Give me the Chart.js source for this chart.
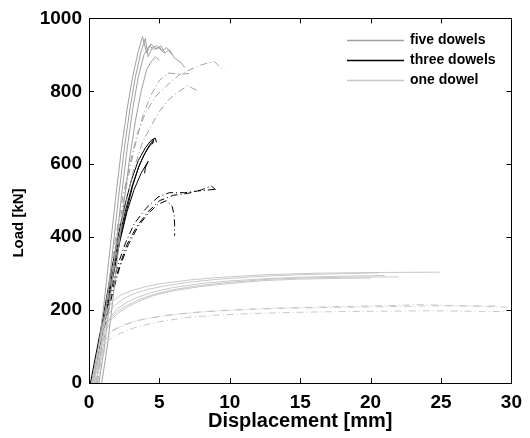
<!DOCTYPE html>
<html>
<head>
<meta charset="utf-8">
<script src="https://cdn.jsdelivr.net/npm/chart.js@4/dist/chart.umd.min.js"></script>
<style>
  body { margin: 0; background: #fff; }
  #wrap { width: 530px; height: 438px; }
</style>
</head>
<body>
<div id="wrap"><canvas id="grafica" width="530" height="438"></canvas></div>
<script>
// ejes
const xTicks = [0, 5, 10, 15, 20, 25, 30];
const yTicks = [0, 200, 400, 600, 800, 1000];
const legendLabels = ['five dowels', 'three dowels', 'one dowel'];

// five dowels, solid  [displacement mm, load kN]
const five1 = [[0.3,0],[0.7,100],[1.1,230],[1.5,370],[1.9,510],[2.3,640],[2.7,750],[3.1,840],[3.5,910],[3.8,950],[4.1,905],[4.4,930],[4.8,915],[5.1,925],[5.4,905],[5.7,915],[6.1,890],[6.5,880],[6.8,865]];
const five2 = [[0.5,0],[0.9,100],[1.3,230],[1.7,370],[2.1,510],[2.5,640],[2.9,750],[3.3,840],[3.7,910],[4.0,945],[4.2,895],[4.5,920],[4.8,925],[5.2,910],[5.5,920],[5.9,900]];
const five3 = [[0.7,0],[1.1,100],[1.5,230],[1.9,370],[2.3,510],[2.7,640],[3.1,750],[3.5,840],[3.9,900],[4.3,925],[4.6,915],[5.0,922],[5.3,905]];
const five4 = [[0.9,0],[1.3,100],[1.7,230],[2.1,370],[2.5,500],[2.9,620],[3.3,720],[3.7,800],[4.1,860],[4.4,880],[4.7,895],[5.0,885]];
// five dowels, dash-dot
const fiveD1 = [[0.4,0],[0.9,130],[1.4,270],[1.9,400],[2.4,510],[2.9,600],[3.4,680],[4.0,740],[4.7,785],[5.5,815],[6.4,845],[7.2,860],[8.0,873],[8.9,882],[9.6,855]];
const fiveD2 = [[0.6,0],[1.1,130],[1.6,270],[2.1,390],[2.6,490],[3.2,590],[3.8,660],[4.4,705],[5.0,745],[5.6,775],[6.2,795],[7.0,815],[7.8,800]];
const fiveD3 = [[0.5,0],[1.0,130],[1.5,270],[2.0,400],[2.6,530],[3.2,640],[3.8,730],[4.4,790],[5.0,830],[5.6,850],[6.6,847],[7.1,849]];

// three dowels, solid
const three1 = [[0.1,0],[0.5,80],[1.0,180],[1.5,290],[2.0,390],[2.5,480],[3.0,555],[3.5,610],[4.0,645],[4.4,665],[4.7,672],[4.8,660]];
const three2 = [[0.2,0],[0.6,80],[1.1,180],[1.6,290],[2.1,390],[2.6,475],[3.1,545],[3.6,600],[4.1,640],[4.4,658],[4.6,668],[4.5,655]];
const three3 = [[0.3,0],[0.7,80],[1.2,180],[1.7,290],[2.2,390],[2.7,470],[3.2,530],[3.7,575],[4.0,595],[4.2,608],[4.0,590],[3.95,575]];
const three4 = [[0.25,0],[0.65,80],[1.15,180],[1.65,290],[2.15,385],[2.65,470],[3.1,540],[3.5,590],[3.9,625],[4.3,650],[4.6,662]];
// three dowels, dash-dot
const threeD1 = [[0.2,0],[0.6,80],[1.1,170],[1.6,260],[2.1,330],[2.6,385],[3.2,436],[4.0,477],[4.9,510],[5.7,522],[6.8,522],[7.8,527],[8.9,531],[9.0,522]];
const threeD2 = [[0.3,0],[0.7,80],[1.2,170],[1.7,250],[2.2,320],[2.8,380],[3.5,430],[4.2,465],[4.9,490],[5.5,500],[5.9,485],[6.05,460],[6.08,436],[6.08,404]];
const threeD3 = [[0.25,0],[0.65,80],[1.15,170],[1.65,255],[2.2,325],[2.7,380],[3.4,430],[4.2,470],[5.0,500],[6.0,515],[7.0,520],[8.0,530],[8.7,540],[9.0,530]];

// one dowel, solid
const one1 = [[0.2,0],[0.6,80],[1.0,160],[1.3,200],[1.7,225],[2.2,240],[3,253],[4,264],[5,272],[7,282],[9,289],[12.5,297],[16,301],[20,303],[24.9,304]];
const one2 = [[0.3,0],[0.7,80],[1.1,150],[1.45,175],[2,195],[2.7,213],[3.5,228],[4.6,243],[6,256],[8,268],[10,276],[12.5,284],[15,288],[18,290],[22,291]];
const one3 = [[0.35,0],[0.75,80],[1.15,150],[1.5,180],[2,203],[2.7,222],[3.5,236],[4.6,250],[6,262],[8,273],[10,280],[12.5,286],[15,290],[18,293],[21,295]];
const one4 = [[0.5,0],[0.9,80],[1.3,150],[1.6,175],[2.1,192],[2.8,210],[3.6,225],[4.6,240],[6,253],[8,265],[10,273],[12.5,281],[15,285],[18,287],[20,288]];
const one5 = [[0.2,0],[0.6,80],[1.0,150],[1.3,185],[1.8,212],[2.4,230],[3.2,245],[4.2,257],[5.5,267],[7,276],[9,284],[12,292],[15,297],[18,300],[20.5,302]];
// one dowel, dash-dot
const oneD1 = [[0.2,0],[0.6,50],[1.0,100],[1.3,130],[1.7,145],[2.5,160],[3.5,172],[5,183],[7,192],[9,198],[12,204],[15,207],[18,210],[21,212],[23.6,215],[26,212],[28,210],[29.7,208]];
const oneD2 = [[0.3,0],[0.7,50],[1.1,100],[1.4,118],[1.8,128],[2.6,143],[3.5,155],[5,168],[7,180],[9,186],[12,191],[15,194],[18,196],[21,197],[24,198],[27,197],[29.5,196]];
const oneD3 = [[0.4,0],[0.8,50],[1.2,100],[1.5,135],[2,150],[3,166],[4,176],[6,188],[8,195],[11,201],[14,205],[17,207],[20,209],[22,210],[25,212],[29,211]];

const GRIS_5 = '#a0a0a0';
const NEGRO_3 = '#000000';
const GRIS_1 = '#c8c8c8';
const PUNTO_RAYA = [7, 3, 1, 3];

function serie(puntos, color, dash) {
    return {
        data: puntos.map(p => ({ x: p[0], y: p[1] })),
        borderColor: color,
        borderWidth: 1,
        borderDash: dash || [],
        pointRadius: 0,
        tension: 0,
        fill: false
    };
}

const datasets = [
    ...[oneD1, oneD2, oneD3].map(d => serie(d, GRIS_1, PUNTO_RAYA)),
    ...[one1, one2, one3, one4, one5].map(d => serie(d, GRIS_1)),
    ...[fiveD1, fiveD2, fiveD3].map(d => serie(d, GRIS_5, PUNTO_RAYA)),
    ...[five1, five2, five3, five4].map(d => serie(d, GRIS_5)),
    ...[threeD1, threeD2, threeD3].map(d => serie(d, NEGRO_3, PUNTO_RAYA)),
    ...[three1, three2, three3, three4].map(d => serie(d, NEGRO_3))
];

const fuente = '"Liberation Sans", Arial, sans-serif';

// marco con marcas hacia dentro, titulo Y y leyenda sin caja
const marcoPlugin = {
    id: 'marco',
    afterDraw(chart) {
        const ctx = chart.ctx;
        const a = chart.chartArea;
        const sx = chart.scales.x, sy = chart.scales.y;
        ctx.save();
        ctx.strokeStyle = '#000';
        ctx.lineWidth = 1;
        ctx.strokeRect(Math.round(a.left) + 0.5, Math.round(a.top) + 0.5, Math.round(a.right - a.left), Math.round(a.bottom - a.top));
        ctx.beginPath();
        xTicks.forEach(v => {
            const px = Math.round(sx.getPixelForValue(v)) + 0.5;
            ctx.moveTo(px, a.bottom); ctx.lineTo(px, a.bottom - 5);
            ctx.moveTo(px, a.top); ctx.lineTo(px, a.top + 5);
        });
        yTicks.forEach(v => {
            const py = Math.round(sy.getPixelForValue(v)) + 0.5;
            ctx.moveTo(a.left, py); ctx.lineTo(a.left + 5, py);
            ctx.moveTo(a.right, py); ctx.lineTo(a.right - 5, py);
        });
        ctx.stroke();

        // titulo del eje Y
        ctx.save();
        ctx.translate(19, 223);
        ctx.rotate(-Math.PI / 2);
        ctx.font = 'bold 15px ' + fuente;
        ctx.fillStyle = '#000';
        ctx.textAlign = 'center';
        ctx.textBaseline = 'middle';
        ctx.fillText('Load [kN]', 0, 0);
        ctx.restore();

        const colores = [GRIS_5, NEGRO_3, GRIS_1];
        ctx.font = 'bold 14px ' + fuente;
        ctx.textBaseline = 'middle';
        legendLabels.forEach((txt, i) => {
            const y = 40.5 + i * 20;
            ctx.strokeStyle = colores[i];
            ctx.lineWidth = 1.5;
            ctx.beginPath();
            ctx.moveTo(347, y); ctx.lineTo(404, y);
            ctx.stroke();
            ctx.fillStyle = '#000';
            ctx.fillText(txt, 410, y);
        });
        ctx.restore();
    }
};

new Chart(document.getElementById('grafica').getContext('2d'), {
    type: 'line',
    data: { datasets },
    options: {
        responsive: false,
        animation: false,
        events: [],
        layout: { padding: { top: 17, right: 12, left: 0, bottom: 0 } },
        plugins: { legend: { display: false }, tooltip: { enabled: false } },
        scales: {
            x: {
                type: 'linear', min: 0, max: 30,
                grid: { display: false, drawTicks: false },
                border: { display: false },
                afterFit: s => { s.height = 55; },
                afterBuildTicks: s => { s.ticks = xTicks.map(v => ({ value: v })); },
                ticks: { padding: 8, color: '#000', callback: v => String(v),
                         font: { family: fuente, size: 19, weight: 'bold' } },
                title: { display: true, text: 'Displacement [mm]', color: '#000', padding: { top: 0, bottom: 5 },
                         font: { family: fuente, size: 20, weight: 'bold' } }
            },
            y: {
                type: 'linear', min: 0, max: 1000,
                grid: { display: false, drawTicks: false },
                border: { display: false },
                afterFit: s => { s.width = 89; },
                afterBuildTicks: s => { s.ticks = yTicks.map(v => ({ value: v })); },
                ticks: { padding: 7, color: '#000', callback: v => String(v),
                         font: { family: fuente, size: 19, weight: 'bold' } }
            }
        }
    },
    plugins: [marcoPlugin]
});
</script>
</body>
</html>
